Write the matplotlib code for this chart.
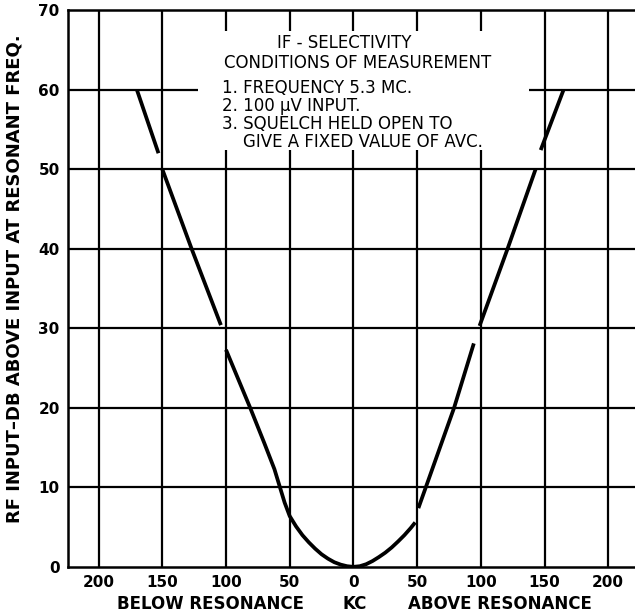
import matplotlib
matplotlib.use('Agg')
import matplotlib.pyplot as plt
from matplotlib.patches import Rectangle
from matplotlib import rcParams

rcParams['font.family'] = 'DejaVu Sans'

# kc off resonance (negative = below) and dB above input at resonance
# the curve is drawn in pieces, as in the original sheet
seg1_x = [-170, -153]
seg1_y = [60, 52]
seg2_x = [-150, -127, -104]
seg2_y = [50, 40, 30.4]
seg3_x = [-100, -81, -70, -62, -58, -54, -50, -45, -40, -35, -30, -25, -20,
          -15, -10, -5, 0, 5, 10, 15, 20, 25, 30, 35, 40, 45, 48.5]
seg3_y = [27.3, 20, 15.6, 12.3, 10.2, 8.1, 6.4, 5.1, 4.0, 3.1, 2.3, 1.6, 1.05,
          0.6, 0.3, 0.1, 0.02, 0.1, 0.35, 0.75, 1.25, 1.8, 2.45, 3.2, 4.0, 4.9, 5.6]
seg4_x = [51, 79, 94.5]
seg4_y = [7.4, 20, 28.1]
seg5_x = [99, 121, 143]
seg5_y = [30.3, 40, 50]
seg6_x = [147, 165]
seg6_y = [52.4, 60]

xticks = [-200, -150, -100, -50, 0, 50, 100, 150, 200]
yticks = [0, 10, 20, 30, 40, 50, 60, 70]

fig = plt.figure(figsize=(6.35, 6.16), dpi=100)
ax = fig.add_axes([68/635, 49/616, 1 - 68/635, 557/616])
ax.set_xlim(-224, 221)
ax.set_ylim(0, 70)

### grid ###
for x in xticks:
    ax.axvline(x, color='k', lw=1.6, zorder=1)
for y in yticks[1:-1]:
    ax.axhline(y, color='k', lw=1.6, zorder=1)

# white box for the note
ax.add_patch(Rectangle((-122, 52.4), 260, 14.9, facecolor='white',
                       edgecolor='none', zorder=2))

### curve ###
for sx, sy in [(seg1_x, seg1_y), (seg2_x, seg2_y), (seg3_x, seg3_y),
               (seg4_x, seg4_y), (seg5_x, seg5_y), (seg6_x, seg6_y)]:
    ax.plot(sx, sy, color='k', lw=2.7, solid_capstyle='butt', zorder=4)

### note ###
fs = 12
ax.text(-7, 65.8, 'IF - SELECTIVITY', ha='center', va='center', fontsize=fs, zorder=3)
ax.text(3, 63.3, 'CONDITIONS OF MEASUREMENT', ha='center', va='center', fontsize=fs, zorder=3)
ax.text(-103, 56.8, '1. FREQUENCY 5.3 MC.\n2. 100 \u00b5V INPUT.\n'
        '3. SQUELCH HELD OPEN TO\n    GIVE A FIXED VALUE OF AVC.',
        ha='left', va='center', fontsize=fs, linespacing=1.0, zorder=3)

### axes ###
ax.set_xticks(xticks)
ax.set_xticklabels([str(abs(x)) for x in xticks], fontweight='bold', fontsize=11)
ax.set_yticks(yticks)
ax.set_yticklabels([str(y) for y in yticks], fontweight='bold', fontsize=11)
ax.tick_params(axis='both', length=0, pad=6)
ax.spines['right'].set_visible(False)
for s in ['left', 'top', 'bottom']:
    ax.spines[s].set_linewidth(1.8)

fig.text(210/635, 1 - 604/616, 'BELOW RESONANCE', ha='center', va='center',
         fontweight='bold', fontsize=12)
fig.text(355/635, 1 - 604/616, 'KC', ha='center', va='center',
         fontweight='bold', fontsize=12)
fig.text(500/635, 1 - 604/616, 'ABOVE RESONANCE', ha='center', va='center',
         fontweight='bold', fontsize=12)
fig.text(15/635, 1 - 279/616, 'RF INPUT\u2013DB ABOVE INPUT AT RESONANT FREQ.',
         ha='center', va='center', rotation=90, fontweight='bold', fontsize=13)

plt.savefig('out.png', dpi=100)
